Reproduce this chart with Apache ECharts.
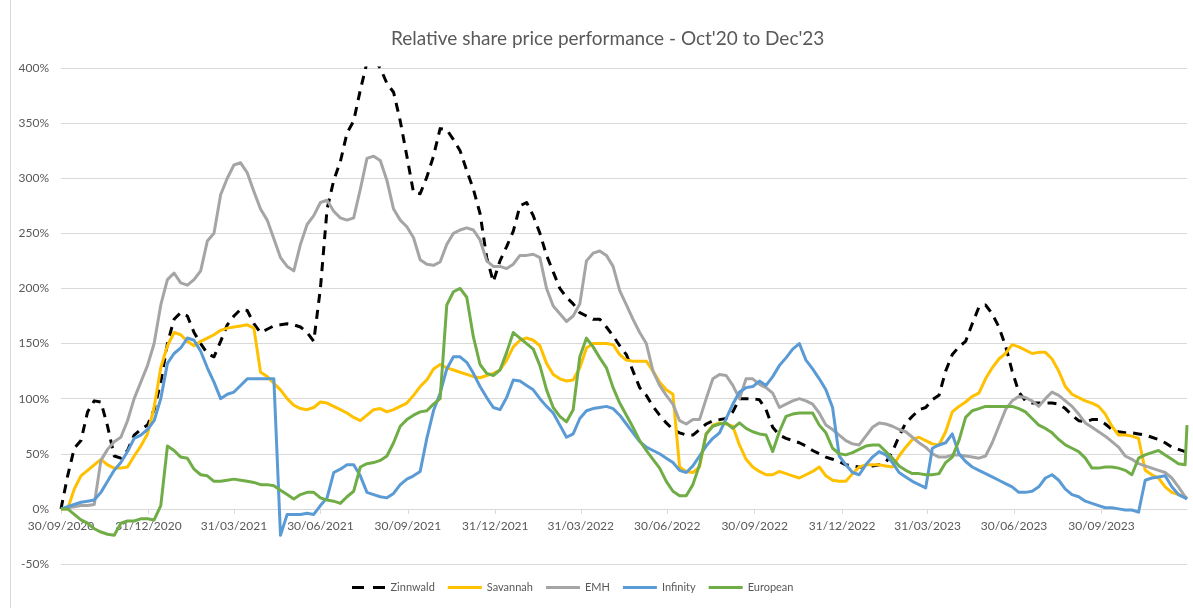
<!DOCTYPE html>
<html>
<head>
<meta charset="utf-8">
<title>Relative share price performance</title>
<script src="https://cdn.jsdelivr.net/npm/echarts@6.0.0/dist/echarts.min.js"></script>
<style>
    html, body { margin: 0; padding: 0; background: #ffffff; }
    #chart { width: 1193px; height: 608px; }
</style>
</head>
<body>
<div id="chart"></div>
<script>
// weekly closes, relative to 30/09/2020 (in %)
var dates = [
    '2020-09-30', '2020-10-07', '2020-10-14', '2020-10-21', '2020-10-28', '2020-11-04', '2020-11-11', '2020-11-18', '2020-11-25',
    '2020-12-02', '2020-12-09', '2020-12-16', '2020-12-23', '2020-12-30', '2021-01-06', '2021-01-13', '2021-01-20', '2021-01-27',
    '2021-02-03', '2021-02-10', '2021-02-17', '2021-02-24', '2021-03-03', '2021-03-10', '2021-03-17', '2021-03-24', '2021-03-31',
    '2021-04-07', '2021-04-14', '2021-04-21', '2021-04-28', '2021-05-05', '2021-05-12', '2021-05-19', '2021-05-26', '2021-06-02',
    '2021-06-09', '2021-06-16', '2021-06-23', '2021-06-30', '2021-07-07', '2021-07-14', '2021-07-21', '2021-07-28', '2021-08-04',
    '2021-08-11', '2021-08-18', '2021-08-25', '2021-09-01', '2021-09-08', '2021-09-15', '2021-09-22', '2021-09-29', '2021-10-06',
    '2021-10-13', '2021-10-20', '2021-10-27', '2021-11-03', '2021-11-10', '2021-11-17', '2021-11-24', '2021-12-01', '2021-12-08',
    '2021-12-15', '2021-12-22', '2021-12-29', '2022-01-05', '2022-01-12', '2022-01-19', '2022-01-26', '2022-02-02', '2022-02-09',
    '2022-02-16', '2022-02-23', '2022-03-02', '2022-03-09', '2022-03-16', '2022-03-23', '2022-03-30', '2022-04-06', '2022-04-13',
    '2022-04-20', '2022-04-27', '2022-05-04', '2022-05-11', '2022-05-18', '2022-05-25', '2022-06-01', '2022-06-08', '2022-06-15',
    '2022-06-22', '2022-06-29', '2022-07-06', '2022-07-13', '2022-07-20', '2022-07-27', '2022-08-03', '2022-08-10', '2022-08-17',
    '2022-08-24', '2022-08-31', '2022-09-07', '2022-09-14', '2022-09-21', '2022-09-28', '2022-10-05', '2022-10-12', '2022-10-19',
    '2022-10-26', '2022-11-02', '2022-11-09', '2022-11-16', '2022-11-23', '2022-11-30', '2022-12-07', '2022-12-14', '2022-12-21',
    '2022-12-28', '2023-01-04', '2023-01-11', '2023-01-18', '2023-01-25', '2023-02-01', '2023-02-08', '2023-02-15', '2023-02-22',
    '2023-03-01', '2023-03-08', '2023-03-15', '2023-03-22', '2023-03-29', '2023-04-05', '2023-04-12', '2023-04-19', '2023-04-26',
    '2023-05-03', '2023-05-10', '2023-05-17', '2023-05-24', '2023-05-31', '2023-06-07', '2023-06-14', '2023-06-21', '2023-06-28',
    '2023-07-05', '2023-07-12', '2023-07-19', '2023-07-26', '2023-08-02', '2023-08-09', '2023-08-16', '2023-08-23', '2023-08-30',
    '2023-09-06', '2023-09-13', '2023-09-20', '2023-09-27', '2023-10-04', '2023-10-11', '2023-10-18', '2023-10-25', '2023-11-01',
    '2023-11-08', '2023-11-15', '2023-11-22', '2023-11-29', '2023-12-06', '2023-12-13', '2023-12-20', '2023-12-27', '2023-12-29'
];

var zinnwald = [
    0, 30, 55, 62, 88, 98, 97, 75, 48, 46, 53, 67, 72, 76, 90, 115, 150, 172, 178, 175,
    160, 150, 141, 138, 152, 167, 175, 181, 180, 168, 160, 163, 166, 167, 168, 167, 165, 160, 152, 200,
    272, 298, 315, 341, 352, 380, 405, 408, 400, 386, 378, 352, 320, 287, 286, 301, 320, 345, 344, 335,
    325, 307, 290, 268, 228, 206, 225, 238, 252, 275, 278, 266, 250, 230, 215, 200, 192, 186, 178, 175,
    172, 172, 165, 157, 148, 140, 125, 110, 103, 93, 85, 78, 72, 69, 67, 67, 72, 77, 80, 81,
    82, 88, 100, 100, 100, 99, 90, 74, 67, 64, 62, 60, 57, 53, 50, 47, 45, 43, 40, 39,
    38, 38, 39, 40, 42, 52, 66, 78, 84, 90, 92, 99, 103, 125, 140, 147, 152, 168, 183, 185,
    177, 165, 148, 125, 106, 98, 96, 96, 96, 96, 95, 91, 85, 80, 79, 81, 81, 77, 72, 70,
    69, 69, 68, 67, 65, 63, 60, 56, 54, 52, 51
];

var savannah = [
    0, 0, 18, 30, 35, 40, 45, 40, 37, 37, 38, 48, 57, 68, 92, 128, 148, 160, 158, 152,
    148, 152, 155, 158, 162, 164, 165, 166, 167, 164, 124, 120, 114, 108, 100, 94, 91, 90, 92, 97,
    96, 93, 90, 87, 83, 80, 85, 90, 91, 88, 90, 93, 96, 103, 111, 117, 127, 131, 128, 126,
    124, 122, 120, 119, 121, 123, 126, 135, 147, 153, 155, 153, 148, 132, 122, 118, 116, 117, 128, 146,
    150, 150, 150, 149, 140, 135, 134, 134, 134, 125, 115, 108, 104, 38, 34, 33, 38, 68, 76, 78,
    77, 75, 58, 45, 38, 34, 31, 31, 34, 32, 30, 28, 31, 34, 38, 30, 26, 25, 25, 32,
    38, 40, 40, 40, 39, 38, 48, 56, 63, 65, 62, 59, 58, 70, 88, 93, 97, 102, 105, 118,
    128, 136, 141, 149, 147, 144, 141, 142, 142, 136, 125, 111, 104, 101, 98, 96, 93, 86, 75, 67,
    67, 66, 64, 35, 31, 28, 20, 15, 13, 11, 10
];

var emh = [
    0, 1, 2, 3, 3, 4, 44, 54, 61, 65, 80, 100, 115, 130, 150, 185, 208, 214, 205, 203,
    208, 216, 243, 250, 285, 300, 312, 314, 305, 288, 272, 262, 245, 228, 220, 216, 240, 258, 266, 278,
    280, 270, 264, 262, 264, 290, 318, 320, 316, 298, 272, 262, 256, 246, 226, 222, 221, 224, 240, 250,
    253, 255, 253, 244, 225, 220, 220, 218, 222, 230, 230, 231, 228, 200, 184, 177, 170, 175, 186, 225,
    232, 234, 230, 220, 198, 185, 172, 160, 150, 125, 112, 103, 95, 80, 77, 81, 81, 100, 118, 122,
    121, 112, 100, 118, 118, 113, 110, 105, 92, 95, 98, 100, 98, 95, 87, 76, 72, 67, 62, 59,
    58, 66, 74, 78, 77, 75, 72, 70, 65, 60, 56, 50, 47, 47, 49, 49, 48, 47, 46, 48,
    60, 75, 90, 98, 102, 101, 98, 93, 100, 106, 103, 98, 93, 86, 78, 74, 70, 66, 61, 56,
    48, 45, 41, 39, 37, 35, 33, 28, 20, 11, 9
];

var infinity = [
    0, 2, 4, 6, 7, 8, 15, 25, 35, 42, 52, 64, 67, 72, 80, 100, 132, 141, 146, 155,
    153, 143, 128, 115, 100, 104, 106, 112, 118, 118, 118, 118, 118, -24, -5, -5, -5, -4, -5, 3,
    10, 33, 36, 40, 40, 30, 15, 13, 11, 10, 14, 22, 27, 30, 34, 64, 89, 105, 127, 138,
    138, 133, 123, 111, 101, 92, 90, 101, 117, 116, 112, 108, 100, 93, 87, 76, 65, 68, 82, 89,
    91, 92, 93, 91, 85, 77, 69, 61, 56, 53, 50, 46, 42, 35, 33, 39, 48, 57, 64, 69,
    82, 95, 106, 110, 111, 116, 112, 120, 130, 137, 145, 150, 135, 127, 118, 108, 92, 48, 40, 33,
    31, 40, 47, 52, 49, 42, 33, 29, 25, 22, 19, 55, 58, 60, 68, 50, 43, 38, 35, 32,
    29, 26, 23, 20, 15, 15, 16, 20, 28, 31, 26, 18, 13, 11, 7, 5, 3, 1, 1, 0,
    -1, -1, -3, 26, 28, 29, 30, 20, 13, 10, 9
];

var european = [
    0, 0, -5, -10, -13, -18, -21, -23, -24, -13, -11, -11, -9, -9, -10, 3, 57, 53, 47, 46,
    36, 31, 30, 25, 25, 26, 27, 26, 25, 24, 22, 22, 21, 17, 13, 9, 13, 15, 15, 10,
    8, 7, 5, 11, 16, 38, 41, 42, 44, 48, 60, 75, 81, 85, 88, 89, 95, 100, 185, 197,
    200, 192, 156, 131, 123, 121, 126, 142, 160, 155, 150, 145, 130, 108, 92, 84, 79, 90, 138, 155,
    147, 137, 128, 110, 96, 85, 74, 62, 53, 45, 37, 25, 16, 12, 12, 22, 40, 68, 75, 77,
    78, 73, 78, 73, 70, 68, 67, 52, 70, 84, 86, 87, 87, 87, 76, 69, 55, 50, 49, 51,
    54, 57, 58, 58, 52, 46, 39, 35, 32, 32, 31, 31, 32, 42, 47, 62, 83, 89, 91, 93,
    93, 93, 93, 93, 91, 88, 82, 76, 73, 69, 63, 58, 55, 52, 46, 37, 37, 38, 38, 37,
    35, 31, 46, 49, 51, 53, 49, 45, 41, 40, 76
];

var quarterEnds = [
    '2020-09-30', '2020-12-31', '2021-03-31', '2021-06-30', '2021-09-30', '2021-12-31', '2022-03-31',
    '2022-06-30', '2022-09-30', '2022-12-31', '2023-03-31', '2023-06-30', '2023-09-30'
];

var yMin = -50;
var yMax = 400;
var yStep = 50;

var chartHeight = 608;
var gridTop = 68;
var gridBottom = 44;

var myChart = echarts.init(document.getElementById('chart'));

function toTime(s) {
    var p = s.split('-');
    return new Date(+p[0], +p[1] - 1, +p[2]).getTime();
}

function pad(n) {
    return n < 10 ? '0' + n : '' + n;
}

function toPairs(values) {
    var out = [];
    for (var i = 0; i < dates.length; i++) {
        out.push([toTime(dates[i]), values[i]]);
    }
    return out;
}

var tickValues = [];
for (var i = 0; i < quarterEnds.length; i++) {
    tickValues.push(toTime(quarterEnds[i]));
}

// date axis sits on the 0% line, as in the Excel original
var gridHeight = chartHeight - gridTop - gridBottom;
var zeroOffset = gridHeight * (0 - yMin) / (yMax - yMin);

var font = 'Lato, "Liberation Sans", sans-serif';
var textColor = '#595959';
var gridColor = '#d9d9d9';

var solidIcon = 'path://M0,0H34V3H0Z';
var dashIcon = 'path://M0,0H12V3H0ZM21,0H33V3H21Z';

function lineSeries(name, values, color, dashed) {
    return {
        name: name,
        type: 'line',
        data: toPairs(values),
        showSymbol: false,
        symbol: 'none',
        clip: true,
        lineStyle: {
            color: color,
            width: 3,
            type: dashed ? [9, 7] : 'solid',
            cap: 'butt',
            join: 'round'
        },
        itemStyle: {color: color}
    };
}

myChart.setOption({
    animation: false,
    title: {
        text: "Relative share price performance - Oct'20 to Dec'23",
        left: 386,
        top: 24,
        textStyle: {
            fontFamily: font,
            fontSize: 19,
            fontWeight: 'normal',
            color: textColor
        }
    },
    legend: {
        bottom: 10,
        left: 347,
        itemWidth: 34,
        itemHeight: 3,
        itemGap: 13,
        textStyle: {
            fontFamily: font,
            fontSize: 11,
            color: textColor
        },
        data: [
            {name: 'Zinnwald', icon: dashIcon},
            {name: 'Savannah', icon: solidIcon},
            {name: 'EMH', icon: solidIcon},
            {name: 'Infinity', icon: solidIcon},
            {name: 'European', icon: solidIcon}
        ]
    },
    grid: {
        left: 61,
        right: 6,
        top: gridTop,
        bottom: gridBottom,
        containLabel: false
    },
    graphic: [{
        type: 'line',
        shape: {x1: 10.5, y1: 0, x2: 10.5, y2: 608},
        style: {stroke: gridColor, lineWidth: 1}
    }],
    xAxis: {
        type: 'value',
        position: 'bottom',
        offset: -zeroOffset,
        min: toTime(dates[0]),
        max: toTime(dates[dates.length - 1]),
        axisLine: {
            onZero: false,
            lineStyle: {color: gridColor, width: 1}
        },
        axisTick: {
            show: true,
            length: 5,
            customValues: tickValues,
            lineStyle: {color: gridColor}
        },
        axisLabel: {
            customValues: tickValues,
            margin: 11,
            fontFamily: font,
            fontSize: 12,
            color: textColor,
            formatter: function (val) {
                var d = new Date(val);
                return pad(d.getDate()) + '/' + pad(d.getMonth() + 1) + '/' + d.getFullYear();
            }
        },
        splitLine: {show: false}
    },
    yAxis: {
        type: 'value',
        min: yMin,
        max: yMax,
        interval: yStep,
        axisLine: {show: false},
        axisTick: {show: false},
        axisLabel: {
            margin: 12,
            fontFamily: font,
            fontSize: 12,
            color: textColor,
            formatter: '{value}%'
        },
        splitLine: {lineStyle: {color: gridColor, width: 1}}
    },
    series: [
        lineSeries('Zinnwald', zinnwald, '#000000', true),
        lineSeries('Savannah', savannah, '#FFC000', false),
        lineSeries('EMH', emh, '#A5A5A5', false),
        lineSeries('Infinity', infinity, '#5B9BD5', false),
        lineSeries('European', european, '#70AD47', false)
    ]
});
</script>
</body>
</html>
